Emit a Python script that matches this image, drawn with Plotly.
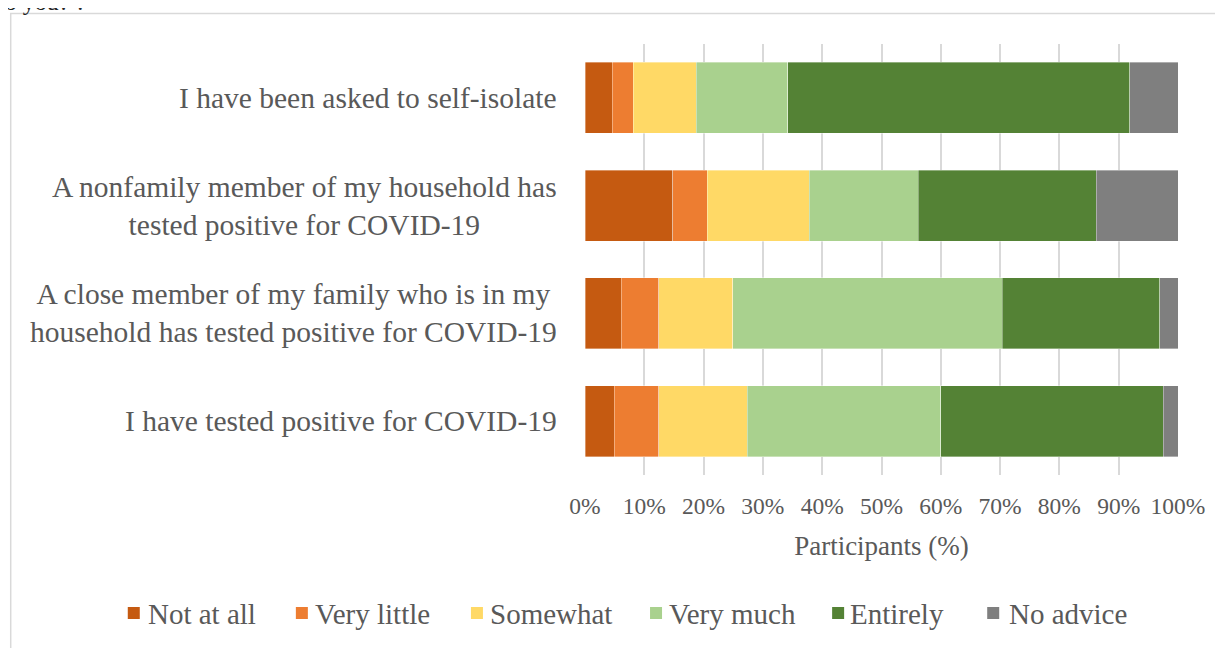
import plotly.graph_objects as go

categories = [
    "I have been asked to self-isolate",
    "A nonfamily member of my household has<br>tested positive for COVID-19",
    "A close member of my family who is in my<br>household has tested positive for COVID-19",
    "I have tested positive for COVID-19",
]
series_names = ["Not at all", "Very little", "Somewhat", "Very much", "Entirely", "No advice"]
not_at_all = [4.6, 14.8, 6.1, 4.9]
very_little = [3.5, 5.8, 6.3, 7.5]
somewhat = [10.7, 17.2, 12.5, 15.0]
very_much = [15.4, 18.4, 45.5, 32.6]
entirely = [57.7, 30.0, 26.5, 37.5]
no_advice = [8.1, 13.8, 3.1, 2.5]
colors = ["#C55A11", "#ED7D31", "#FFD966", "#A9D18E", "#548235", "#7F7F7F"]
tick_vals = [0, 10, 20, 30, 40, 50, 60, 70, 80, 90, 100]
tick_text = [f"{v}%" for v in tick_vals]

FONT = "Liberation Serif, Times New Roman, serif"
TXT = "#595959"

fig = go.Figure()
for name, vals, col in zip(series_names,
                           [not_at_all, very_little, somewhat, very_much, entirely, no_advice],
                           colors):
    fig.add_trace(go.Bar(
        y=categories, x=vals, name=name, orientation="h", showlegend=False,
        marker=dict(color=col, line=dict(color="rgba(255,255,255,0.45)", width=0.8)),
    ))

# page offset (browser body margin)
OFF = 8
# plot area in page px: x 585..1177.7, y 44..475
L, R, T, B = 585, 1177.7, 44, 475
W, H = R - L, B - T

def px_x(p):
    return (p - L) / W

def px_y(p):
    return (B - p) / H

for c in categories:
    fig.add_annotation(
        text=c, xref="paper", yref="y", x=px_x(559), y=c,
        xanchor="right", yanchor="middle", align="center", showarrow=False,
        font=dict(family=FONT, size=29.5, color=TXT),
    )

# partial caption text at top (cut off by the image edge, as in the source)
fig.add_annotation(
    text="to you?\u2019.", xref="paper", yref="paper", x=px_x(-4), y=px_y(17),
    xanchor="left", yanchor="bottom", showarrow=False,
    font=dict(family=FONT, size=24, color="#222222"),
)

# chart border
fig.add_shape(type="rect", xref="paper", yref="paper",
              x0=px_x(11), x1=px_x(1222), y0=px_y(700), y1=px_y(13.5),
              line=dict(color="#D9D9D9", width=1.5), fillcolor="rgba(0,0,0,0)", layer="below")

# custom single-row legend
legend_marker_x = [134, 302, 477, 656, 838, 993]
legend_text_x = [148, 315, 490, 669, 850, 1009]
for name, col, mx, tx in zip(series_names, colors, legend_marker_x, legend_text_x):
    fig.add_shape(type="rect", xref="paper", yref="paper",
                  x0=px_x(mx - 6), x1=px_x(mx + 6), y0=px_y(619), y1=px_y(607),
                  line=dict(width=0), fillcolor=col)
    fig.add_annotation(
        text=name, xref="paper", yref="paper", x=px_x(tx - 2), y=px_y(614),
        xanchor="left", yanchor="middle", showarrow=False,
        font=dict(family=FONT, size=29, color=TXT),
    )

fig.update_layout(
    barmode="stack",
    bargap=0.34,
    width=1223 - OFF, height=648 - OFF,
    margin=dict(l=L - OFF, r=1223 - R, t=T - OFF, b=648 - B),
    paper_bgcolor="white", plot_bgcolor="white",
    font=dict(family=FONT, color=TXT),
    showlegend=False,
    xaxis=dict(
        range=[0, 100], tickvals=tick_vals, ticktext=tick_text,
        showgrid=True, gridcolor="#D9D9D9", gridwidth=1.5, zeroline=False,
        showline=False, ticks="outside", ticklen=10, tickcolor="rgba(0,0,0,0)",
        tickfont=dict(family=FONT, size=23.5, color=TXT),
        title=dict(text="Participants (%)", font=dict(family=FONT, size=27, color=TXT), standoff=17),
        fixedrange=True,
    ),
    yaxis=dict(
        autorange="reversed", showticklabels=False, showgrid=False, zeroline=False,
        showline=False, fixedrange=True,
    ),
)

fig.write_html("out.html")
